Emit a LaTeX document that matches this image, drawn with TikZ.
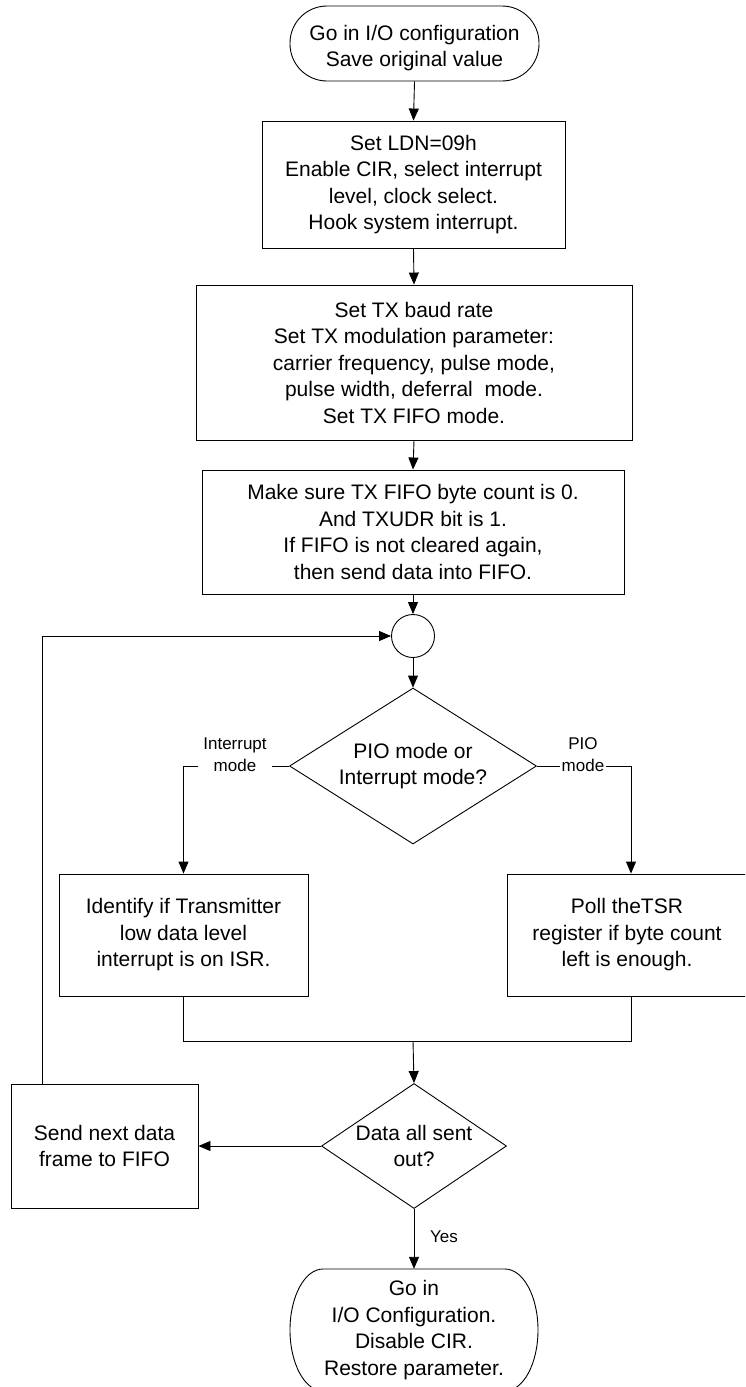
\documentclass[tikz,border=0pt]{standalone}
\usepackage{fontspec}
\setmainfont{Liberation Sans}
\usetikzlibrary{shapes.geometric,arrows.meta}
\begin{document}
\begin{tikzpicture}[x=1pt,y=-1pt,
  every node/.style={font=\fontsize{21}{26.5}\selectfont, align=center, inner sep=0pt},
  box/.style={draw, line width=0.9pt, rectangle},
  ln/.style={line width=0.9pt},
  arr/.style={line width=0.9pt, -{Triangle[length=12pt,width=10pt]}},
  dia/.style={draw, line width=0.9pt, diamond, inner sep=0pt},
  lbl/.style={font=\fontsize{17}{22}\selectfont, fill=white, inner ysep=1pt}]
\clip (0,0) rectangle (745,1387);
\node[draw, line width=0.9pt, rounded corners=37pt, minimum width=249pt, minimum height=75pt] (start) at (414.5,43.5) {};
\node (startt) at (414.5,48) {Go in I/O configuration\\Save original value};
\node[box, minimum width=303pt, minimum height=127pt] (b2) at (413.5,184.5) {Set LDN=09h\\Enable CIR, select interrupt\\level, clock select.\\Hook system interrupt.};
\node[box, minimum width=436pt, minimum height=155pt] (b3) at (414,362.5) {Set TX baud rate\\Set TX modulation parameter:\\carrier frequency, pulse mode,\\pulse width, deferral\ \ mode.\\Set TX FIFO mode.};
\node[box, minimum width=422pt, minimum height=124pt] (b4) at (413,532) {Make sure TX FIFO byte count is 0.\\And TXUDR bit is 1.\\If FIFO is not cleared again,\\then send data into FIFO.};
\node[draw, line width=0.9pt, circle, minimum size=43pt] (jn) at (413,636) {};
\node[dia, minimum width=247pt, minimum height=156pt] (d1) at (413,766) {};
\node (d1t) at (413,766) {PIO mode or\\Interrupt mode?};
\node[box, minimum width=249pt, minimum height=122pt] (lb) at (183.5,935) {Identify if Transmitter\\low data level\\interrupt is on ISR.};
\node[box, minimum width=248pt, minimum height=122pt] (rb) at (631,935) {};
\node (rbt) at (627,935) {Poll theTSR\\register if byte count\\left is enough.};
\coordinate (m) at (413,1041);
\node[dia, minimum width=185pt, minimum height=125pt] (d2) at (414,1146) {};
\node (d2t) at (414,1146) {Data all sent\\out?};
\node[box, minimum width=187pt, minimum height=124pt] (sb) at (104.5,1146) {Send next data\\frame to FIFO};
\coordinate (fb) at (42,1084);
\node[minimum width=248pt, minimum height=122pt] (end) at (414,1330) {Go in\\I/O Configuration.\\Disable CIR.\\Restore parameter.};
\draw[ln] (323,1269) -- (505,1269) arc[start angle=90,end angle=-90,x radius=33pt,y radius=61pt] -- (323,1391) arc[start angle=270,end angle=90,x radius=33pt,y radius=61pt] -- cycle;
% connectors
\draw[arr] (start.south) -- (b2.north);
\draw[arr] (b2.south) -- (b3.north);
\draw[arr] (b3.south) -- (b4.north);
\draw[arr] (b4.south) -- (jn.north);
\draw[arr] (jn.south) -- (d1.north);
\draw[arr] (d1.west) -| (lb.north);
\draw[arr] (d1.east) -| (rb.north);
\draw[ln] (lb.south) |- (m) -| (rb.south);
\draw[arr] (m) -- (d2.north);
\draw[arr] (d2.west) -- (sb.east);
\draw[arr] (fb) |- (jn.west);
\draw[arr] (d2.south) -- (end.north);
% labels
\node[lbl, inner xsep=5pt] (lint) at (235,755) {Interrupt\\mode};
\node[lbl, inner xsep=2pt] (lpio) at (583,755) {PIO\\mode};
\node[font=\fontsize{17}{22}\selectfont] (yes) at (444,1237) {Yes};
\end{tikzpicture}
\end{document}
